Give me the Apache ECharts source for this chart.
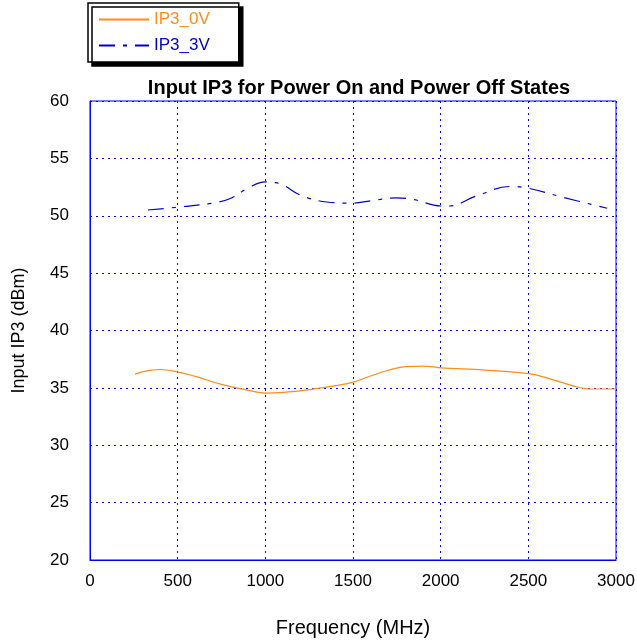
<!DOCTYPE html>
<html><head><meta charset="utf-8">
<script src="https://cdn.jsdelivr.net/npm/echarts@6/dist/echarts.min.js"></script>
<style>html,body{margin:0;padding:0;background:#fff}#c{width:637px;height:642px}</style>
</head><body><div id="c"></div>
<script>
const freq0 = [257, 330, 400, 500, 600, 750, 900, 1000, 1100, 1250, 1400, 1500, 1650, 1800, 1900, 2000, 2250, 2500, 2600, 2750, 2850, 3000];
const ip3_0V = [36.2, 36.5, 36.6, 36.4, 36.0, 35.3, 34.8, 34.55, 34.6, 34.85, 35.2, 35.5, 36.3, 36.85, 36.9, 36.75, 36.55, 36.25, 35.9, 35.2, 34.9, 34.9];
const freq3 = [330, 500, 700, 800, 900, 1000, 1050, 1100, 1200, 1350, 1500, 1600, 1750, 1850, 2000, 2050, 2200, 2400, 2500, 2700, 2950];
const ip3_3V = [50.5, 50.75, 51.1, 51.5, 52.4, 52.95, 52.9, 52.7, 51.8, 51.2, 51.1, 51.3, 51.55, 51.4, 50.85, 50.85, 51.7, 52.55, 52.4, 51.6, 50.65];
const xTicks = [0, 500, 1000, 1500, 2000, 2500, 3000];
const yTicks = [20, 25, 30, 35, 40, 45, 50, 55, 60];

const chart = echarts.init(document.getElementById('c'));
const font = 'Liberation Sans, Arial, sans-serif';
chart.setOption({
  animation: false,
  title: {
    text: 'Input IP3 for Power On and Power Off States',
    left: 354, textAlign: 'center', top: 73,
    textStyle: {fontFamily: font, fontSize: 20, fontWeight: 'bold', color: '#000'}
  },
  legend: {
    orient: 'vertical', left: 88, top: 3, itemWidth: 50, itemHeight: 10, itemGap: 9,
    padding: [8, 29, 8, 10],
    backgroundColor: '#fff', borderColor: '#000', borderWidth: 1.5,
    shadowColor: '#000', shadowBlur: 0, shadowOffsetX: 4, shadowOffsetY: 4,
    itemStyle: {opacity: 0},
    data: [
      {name: 'IP3_0V', textStyle: {color: '#ff8c1a'}},
      {name: 'IP3_3V', textStyle: {color: '#0000cc'}}
    ],
    textStyle: {fontFamily: font, fontSize: 17}
  },
  grid: {left: 90, right: 21, top: 101, bottom: 82, outerBoundsMode: 'none', containLabel: false,
         show: true, borderColor: '#0000ff', borderWidth: 1, backgroundColor: 'transparent'},
  xAxis: {
    type: 'value', min: 0, max: 3000, interval: 500,
    name: 'Frequency (MHz)', nameLocation: 'middle', nameGap: 58,
    nameTextStyle: {fontFamily: font, fontSize: 20, color: '#000'},
    axisLine: {lineStyle: {color: '#0000ff', width: 1}},
    axisTick: {show: false},
    axisLabel: {fontFamily: font, fontSize: 17, color: '#000', margin: 13, formatter: v => String(v)},
    splitLine: {show: true, lineStyle: {color: '#0000ff', type: [2, 4], width: 1}}
  },
  yAxis: {
    type: 'value', min: 20, max: 60, interval: 5,
    name: 'Input IP3 (dBm)', nameLocation: 'middle', nameGap: 62,
    nameTextStyle: {fontFamily: font, fontSize: 18, color: '#000'},
    axisLine: {show: true, lineStyle: {color: '#0000ff', width: 1}},
    axisTick: {show: false},
    axisLabel: {fontFamily: font, fontSize: 17, color: '#000', margin: 21},
    splitLine: {show: true, lineStyle: {color: '#0000ff', type: [2, 4], width: 1}}
  },
  series: [
    {name: 'IP3_0V', type: 'line', smooth: 0.4, showSymbol: false, symbol: 'none',
     color: '#ff8c1a', lineStyle: {color: '#ff8c1a', width: 1.2},
     data: freq0.map((f, i) => [f, ip3_0V[i]])},
    {name: 'IP3_3V', type: 'line', smooth: 0.4, showSymbol: false, symbol: 'none',
     color: '#0000cc', lineStyle: {color: '#0000cc', width: 1.2, type: [16, 8, 4, 8]},
     data: freq3.map((f, i) => [f, ip3_3V[i]])}
  ]
});
</script></body></html>
